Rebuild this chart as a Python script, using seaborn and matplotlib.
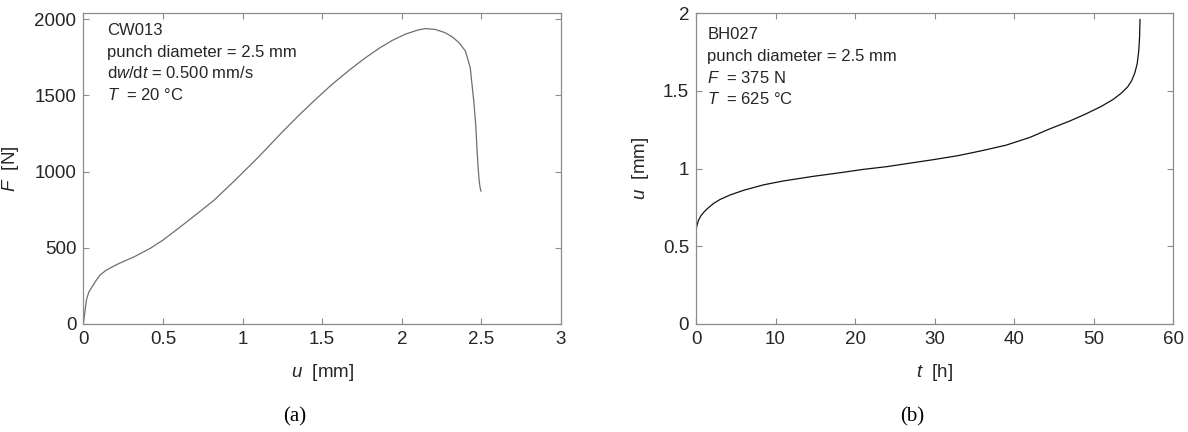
import numpy as np
import pandas as pd
import matplotlib
matplotlib.use("Agg")
import matplotlib.pyplot as plt
from matplotlib.ticker import FixedLocator, FuncFormatter
import seaborn as sns

# Small punch test, constant displacement rate (CW013)
disp_u = [0, 0.01, 0.02, 0.035, 0.053, 0.08, 0.106, 0.14, 0.17, 0.22, 0.32, 0.42, 0.5,
          0.65, 0.82, 0.95, 1.1, 1.25, 1.35, 1.45, 1.56, 1.67, 1.77, 1.86, 1.94, 2.02,
          2.1, 2.15, 2.21, 2.27, 2.315, 2.36, 2.4, 2.43, 2.452, 2.465, 2.473, 2.48,
          2.486, 2.492, 2.498]
force_F = [0, 80, 160, 210, 240, 285, 322, 350, 368, 395, 441, 496, 550,
           670, 811, 940, 1095, 1260, 1365, 1465, 1570, 1665, 1745, 1810, 1860, 1900,
           1928, 1938, 1932, 1912, 1885, 1845, 1790, 1682, 1464, 1300, 1138, 1020,
           940, 895, 870]

# Small punch creep test, constant load (BH027)
time_t = [0, 0.02, 0.1, 0.3, 0.6, 1.0, 1.5, 2.2, 3.0, 4.3, 6.0, 8.5, 11, 14.8, 18, 21,
          24, 27, 30, 33, 36, 39, 42, 44.5, 47, 49, 51, 52.5, 53.5, 54.3, 54.8, 55.2,
          55.5, 55.7, 55.8, 55.85]
creep_u = [0.55, 0.6, 0.63, 0.665, 0.695, 0.72, 0.745, 0.775, 0.8, 0.83, 0.86, 0.895,
           0.92, 0.95, 0.972, 0.994, 1.012, 1.035, 1.058, 1.083, 1.115, 1.15, 1.2, 1.255,
           1.305, 1.35, 1.4, 1.445, 1.485, 1.525, 1.565, 1.615, 1.675, 1.76, 1.85, 1.96]

left_xticks = [0, 0.5, 1, 1.5, 2, 2.5, 3]
left_yticks = [0, 500, 1000, 1500, 2000]
right_xticks = [0, 10, 20, 30, 40, 50, 60]
right_yticks = [0, 0.5, 1, 1.5, 2]

left_notes = ["CW013", "punch diameter = 2.5 mm", "d$w$/d$t$ = 0.500 mm/s", "$T$  = 20 \u00b0C"]
right_notes = ["BH027", "punch diameter = 2.5 mm", "$F$  = 375 N", "$T$  = 625 \u00b0C"]

sns.set_theme(style="white")
plt.rcParams["font.family"] = ["Liberation Sans", "DejaVu Sans"]
plt.rcParams["mathtext.fontset"] = "custom"
plt.rcParams["mathtext.it"] = "Liberation Sans:italic"
plt.rcParams["mathtext.rm"] = "Liberation Sans"

W, H = 1188, 432
fig = plt.figure(figsize=(W / 100, H / 100), dpi=100)
fig.patch.set_facecolor("white")

spine_col = "#8c8c8c"
text_col = "#262626"


def fmt(v, _):
    return f"{v:g}"


def style_axes(ax, xlim, ylim, xt, yt):
    ax.set_xlim(*xlim)
    ax.set_ylim(*ylim)
    ax.xaxis.set_major_locator(FixedLocator(xt))
    ax.yaxis.set_major_locator(FixedLocator(yt))
    ax.xaxis.set_major_formatter(FuncFormatter(fmt))
    ax.yaxis.set_major_formatter(FuncFormatter(fmt))
    for s in ax.spines.values():
        s.set_visible(True)
        s.set_color(spine_col)
        s.set_linewidth(0.9)
    ax.tick_params(direction="in", length=4, width=0.8, color=spine_col,
                   top=True, right=True, bottom=True, left=True,
                   labelsize=13.5, labelcolor=text_col, pad=5)
    ax.grid(False)
    ax.set_facecolor("white")


def notes(ax, lines, x_px, baselines_px, top_px=13, bottom_px=324):
    for line, b in zip(lines, baselines_px):
        y = (bottom_px - b) / (bottom_px - top_px)
        ax.text(x_px, y, line, transform=ax.transAxes, fontsize=12,
                color=text_col, va="baseline", ha="left")


# Left panel: force vs displacement
axL = fig.add_axes([83.3 / W, 108 / H, 477.7 / W, 311 / H])
df_a = pd.DataFrame({"u": disp_u, "F": force_F})
sns.lineplot(data=df_a, x="u", y="F", ax=axL, sort=False, estimator=None,
             color="#6e6e6e", linewidth=0.9)
style_axes(axL, (0, 3), (0, 2040), left_xticks, left_yticks)
axL.set_xlabel("$u$  [mm]", fontsize=13.5, color=text_col)
axL.set_ylabel("$F$  [N]", fontsize=13.5, color=text_col)
axL.xaxis.set_label_coords(0.5, -0.122)
axL.yaxis.set_label_coords(-0.13, 0.5)
notes(axL, left_notes, (107.3 - 83.3) / 477.7, [35, 56.7, 78.3, 100])

# Right panel: displacement vs time
axR = fig.add_axes([696 / W, 108 / H, 477 / W, 311 / H])
df_b = pd.DataFrame({"t": time_t, "u": creep_u})
sns.lineplot(data=df_b, x="t", y="u", ax=axR, sort=False, estimator=None,
             color="#111111", linewidth=0.9)
style_axes(axR, (0, 60), (0, 2), right_xticks, right_yticks)
axR.set_xlabel("$t$  [h]", fontsize=13.5, color=text_col)
axR.set_ylabel("$u$  [mm]", fontsize=13.5, color=text_col)
axR.xaxis.set_label_coords(0.5, -0.122)
axR.yaxis.set_label_coords(-0.095, 0.5)
notes(axR, right_notes, (707.3 - 696) / 477, [39, 61, 83, 104])

# Sub-figure captions
fig.text(295 / W, 1 - 417 / H, "(a)", ha="center", va="center",
         family=["Liberation Serif", "DejaVu Serif"], fontsize=15, color="black")
fig.text(912 / W, 1 - 417 / H, "(b)", ha="center", va="center",
         family=["Liberation Serif", "DejaVu Serif"], fontsize=15, color="black")

fig.savefig("out.png", dpi=100, facecolor="white")
